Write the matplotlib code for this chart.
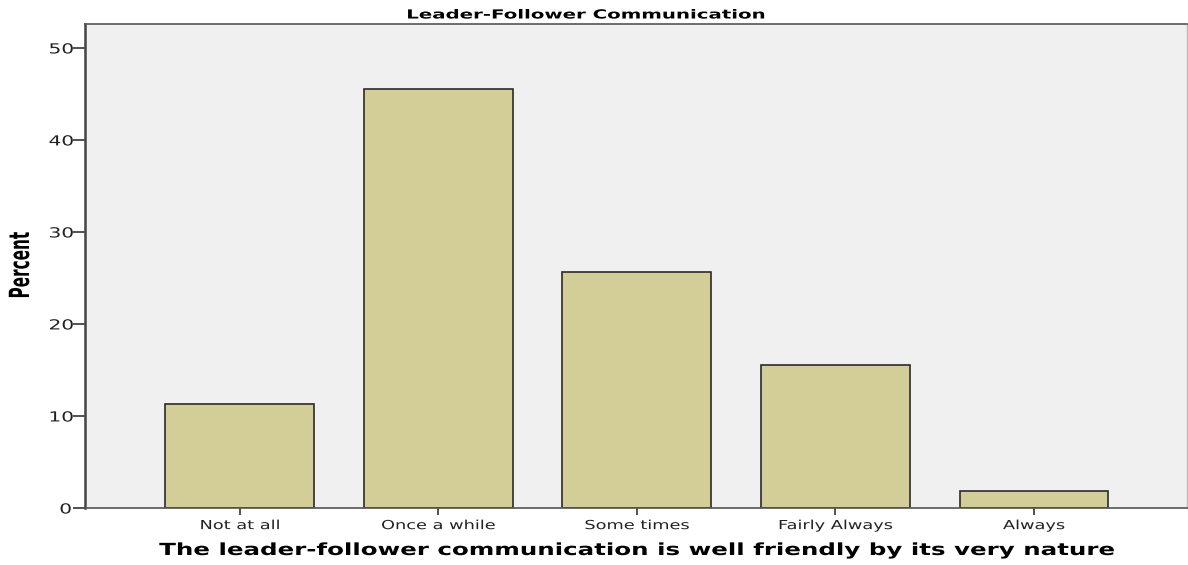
import numpy as np
import matplotlib
matplotlib.use('Agg')
import matplotlib.pyplot as plt
from matplotlib.patheffects import AbstractPathEffect
from matplotlib.transforms import Affine2D

# values
categories = ['Not at all', 'Once a while', 'Some times', 'Fairly Always', 'Always']
percent = [11.3, 45.5, 25.6, 15.5, 1.9]
y_ticks = [0, 10, 20, 30, 40, 50]


# the reference text looks stretched sideways, so scale glyphs along the baseline
class Stretch(AbstractPathEffect):
    def __init__(self, sx):
        super().__init__()
        self.sx = sx

    def draw_path(self, renderer, gc, tpath, affine, rgbFace=None):
        xs = tpath.vertices[:, 0]
        cx = (xs.min() + xs.max()) / 2 if len(xs) else 0
        t = Affine2D().translate(-cx, 0).scale(self.sx, 1).translate(cx, 0)
        renderer.draw_path(gc, tpath, t + affine, rgbFace)


fig = plt.figure(figsize=(11.88, 5.65), dpi=100)
ax = fig.add_axes([0.0716, 0.1009, 0.9274, 0.8566])
ax.set_facecolor('#f0f0f0')

x = np.arange(len(categories))
ax.bar(x, percent, width=0.75, color='#d3ce97', edgecolor='#2b2b2b', linewidth=1.2, zorder=2)

ax.set_xlim(-0.78, 4.77)
ax.set_ylim(0, 52.6)
ax.set_yticks(y_ticks)
ax.set_xticks(x)
ax.set_xticklabels(categories, fontsize=9, family='DejaVu Sans', color='#222222')
for lab in ax.get_xticklabels():
    lab.set_path_effects([Stretch(1.42)])
for lab in ax.get_yticklabels():
    lab.set_fontsize(10)
    lab.set_color('#222222')
    lab.set_path_effects([Stretch(1.45)])

ax.tick_params(axis='y', direction='out', length=9, width=1.2, color='#333333', pad=2)
ax.tick_params(axis='x', direction='out', length=5, width=1.2, color='#333333', pad=3)

ax.spines['left'].set_color('#444444')
ax.spines['left'].set_linewidth(1.8)
ax.spines['bottom'].set_color('#555555')
ax.spines['bottom'].set_linewidth(1.2)
ax.spines['top'].set_color('#555555')
ax.spines['top'].set_linewidth(1.2)
ax.spines['right'].set_color('#bbbbbb')
ax.spines['right'].set_linewidth(1.0)

t1 = fig.text(585 / 1188, 1 - 15 / 565, 'Leader-Follower Communication', ha='center', va='center',
              fontsize=9, fontweight='bold', family='DejaVu Sans')
t1.set_path_effects([Stretch(1.58)])
t2 = fig.text(636 / 1188, 1 - 550 / 565, 'The leader-follower communication is well friendly by its very nature',
              ha='center', va='center', fontsize=12, fontweight='bold', family='DejaVu Sans')
t2.set_path_effects([Stretch(1.47)])
t3 = fig.text(21 / 1188, 1 - 265 / 565, 'Percent', ha='center', va='center', rotation=90,
              fontsize=20, fontweight='bold', family='DejaVu Sans')
t3.set_path_effects([Stretch(0.55)])

fig.savefig('out.png', dpi=100)
